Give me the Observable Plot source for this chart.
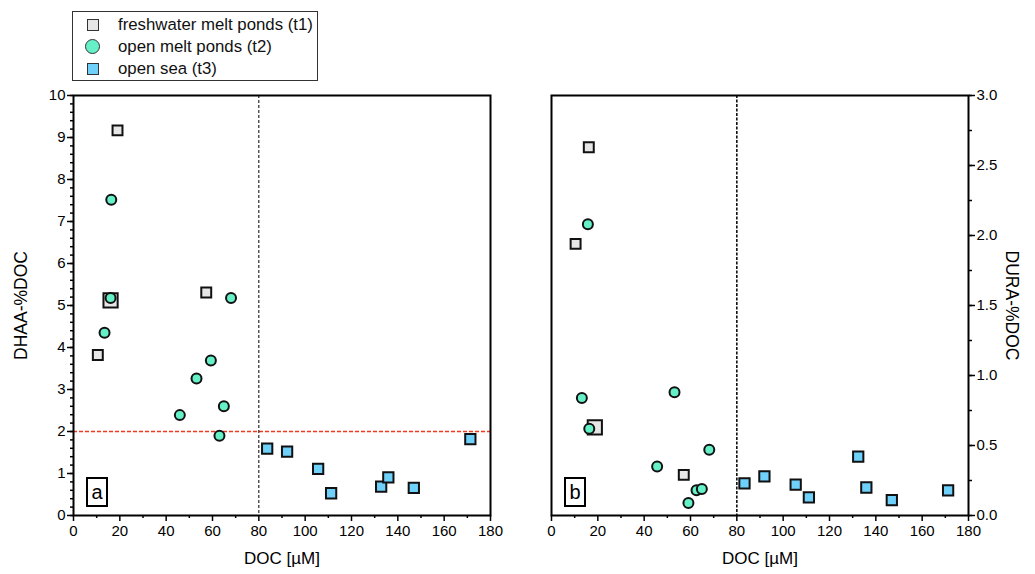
<!DOCTYPE html>
<html>
<head>
<meta charset="utf-8">
<script src="https://cdn.jsdelivr.net/npm/d3@7"></script>
<script src="https://cdn.jsdelivr.net/npm/@observablehq/plot@0.6"></script>
<style>
  html, body { margin: 0; padding: 0; background: #fff; }
  body { width: 1035px; height: 574px; position: relative; overflow: hidden; font-family: "Liberation Sans", Arial, sans-serif; }
  .panel { position: absolute; top: 0; }
  .legend { position: absolute; left: 72px; top: 11px; width: 246px; height: 70px; border: 1.3px solid #333; background: #fff; box-sizing: border-box; }
  .entry { position: absolute; left: 0; height: 20px; font-size: 16.8px; line-height: 20px; color: #111; }
  .entry .sym { position: absolute; left: 14px; top: 4px; width: 12px; height: 12px; border: 1.5px solid #333; box-sizing: border-box; }
  .entry .sym.circle { width: 15px; height: 15px; left: 12px; top: 2px; border-radius: 50%; }
  .entry .lab { position: absolute; left: 45px; white-space: nowrap; }
  .tag { position: absolute; border: 2px solid #000; box-sizing: border-box; width: 22px; height: 30px; font-size: 20px; text-align: center; line-height: 27px; color: #000; background: #fff; }
</style>
</head>
<body>
<script>
// ---- categories / legend labels ----
const groups = ["freshwater melt ponds (t1)", "open melt ponds (t2)", "open sea (t3)"];
const groupColors = ["#e6e6e6", "#66f0c8", "#6fd0fa"];

// ---- panel a: DHAA-%DOC vs DOC [µM] ----
const t1DOC_a  = [10.5, 16.0, 19.0, 57.3];
const t1DHAA   = [3.82, 5.12, 9.17, 5.31];
const t2DOC_a  = [13.4, 16.0, 16.3, 45.9, 53.1, 59.3, 63.0, 64.9, 68.0];
const t2DHAA   = [4.35, 5.18, 7.52, 2.39, 3.26, 3.69, 1.90, 2.60, 5.18];
const t3DOC_a  = [83.6, 92.2, 105.6, 111.2, 132.8, 135.9, 146.9, 171.3];
const t3DHAA   = [1.59, 1.52, 1.11, 0.53, 0.69, 0.91, 0.66, 1.82];

// ---- panel b: DURA-%DOC vs DOC [µM] ----
const t1DOC_b  = [10.4, 18.7, 16.1, 57.1];
const t1DURA   = [1.94, 0.63, 2.63, 0.29];
const t2DOC_b  = [13.1, 15.7, 16.3, 45.6, 53.1, 59.1, 62.6, 64.9, 68.1];
const t2DURA   = [0.84, 2.08, 0.62, 0.35, 0.88, 0.09, 0.18, 0.19, 0.47];
const t3DOC_b  = [83.3, 91.9, 105.4, 111.1, 132.4, 135.9, 146.9, 171.2];
const t3DURA   = [0.23, 0.28, 0.22, 0.13, 0.42, 0.20, 0.11, 0.18];

// ---- reference lines ----
const docThreshold = 80;
const dhaaThreshold = 2;

// ---- ticks ----
const xTicks = [0, 20, 40, 60, 80, 100, 120, 140, 160, 180];
const xMinor = [10, 30, 50, 70, 90, 110, 130, 150, 170];
const yTicksA = [0, 1, 2, 3, 4, 5, 6, 7, 8, 9, 10];
const yTicksB = [0, 0.5, 1, 1.5, 2, 2.5, 3];

const rows = (xs, ys) => xs.map((x, i) => ({x, y: ys[i], i}));
const FONT = "Liberation Sans, Arial, sans-serif";

function symbols(t1, t2, t3, bigIndex) {
  return [
    Plot.dot(t1.filter(d => d.i !== bigIndex), {x: "x", y: "y", symbol: "square", r: 5.6, fill: groupColors[0], stroke: "#111", strokeWidth: 2}),
    Plot.dot(t1.filter(d => d.i === bigIndex), {x: "x", y: "y", symbol: "square", r: 8, fill: groupColors[0], stroke: "#111", strokeWidth: 2}),
    Plot.dot(t3, {x: "x", y: "y", symbol: "square", r: 5.8, fill: groupColors[2], stroke: "#111", strokeWidth: 2}),
    Plot.dot(t2, {x: "x", y: "y", symbol: "circle", r: 5, fill: groupColors[1], stroke: "#111", strokeWidth: 2})
  ];
}

const minorA = d3.range(0, 50.5).map(k => k * 0.2);
const minorB = d3.range(0, 12.5).map(k => k * 0.25);

const panelA = Plot.plot({
  width: 517, height: 574,
  marginLeft: 73, marginRight: 27, marginTop: 95, marginBottom: 59,
  x: {domain: [0, 180], label: null},
  y: {domain: [0, 10], label: null},
  style: {fontFamily: FONT, fontSize: "15px", color: "#000", background: "transparent", overflow: "visible"},
  marks: [
    Plot.ruleY([dhaaThreshold], {stroke: "#f03a1e", strokeWidth: 1.3, strokeDasharray: "4,2"}),
    Plot.ruleX([docThreshold], {stroke: "#000", strokeWidth: 1, strokeDasharray: "3,2"}),
    Plot.axisY({ticks: minorA, tickSize: 3, text: null, label: null, strokeWidth: 1.5}),
    Plot.axisY({ticks: yTicksA, tickSize: 6, tickPadding: 2, label: null, strokeWidth: 1.5, fontSize: 15}),
    Plot.axisX({ticks: xMinor, tickSize: 3, text: null, label: null, strokeWidth: 1.5}),
    Plot.axisX({ticks: xTicks, tickSize: 6, tickPadding: 4, label: null, strokeWidth: 1.5, fontSize: 15}),
    Plot.frame({stroke: "#000", strokeWidth: 2}),
    ...symbols(rows(t1DOC_a, t1DHAA), rows(t2DOC_a, t2DHAA), rows(t3DOC_a, t3DHAA), 1),
    Plot.text(["DHAA-%DOC"], {frameAnchor: "left", textAnchor: "middle", rotate: -90, dx: -52, fontSize: 17.5}),
    Plot.text(["DOC [µM]"], {frameAnchor: "bottom", dy: 48, fontSize: 17})
  ]
});

const panelB = Plot.plot({
  width: 518, height: 574,
  marginLeft: 34, marginRight: 67, marginTop: 95, marginBottom: 59,
  x: {domain: [0, 180], label: null},
  y: {domain: [0, 3], label: null},
  style: {fontFamily: FONT, fontSize: "15px", color: "#000", background: "transparent", overflow: "visible"},
  marks: [
    Plot.ruleX([docThreshold], {stroke: "#000", strokeWidth: 1.5, strokeDasharray: "3,1.5"}),
    Plot.axisY({anchor: "right", ticks: minorB, tickSize: 3, text: null, label: null, strokeWidth: 1.5}),
    Plot.axisY({anchor: "right", ticks: yTicksB, tickSize: 6, tickPadding: 2, tickFormat: d3.format(".1f"), label: null, strokeWidth: 1.5, fontSize: 15}),
    Plot.axisX({ticks: xMinor, tickSize: 3, text: null, label: null, strokeWidth: 1.5}),
    Plot.axisX({ticks: xTicks, tickSize: 6, tickPadding: 4, label: null, strokeWidth: 1.5, fontSize: 15}),
    Plot.frame({stroke: "#000", strokeWidth: 2}),
    ...symbols(rows(t1DOC_b, t1DURA), rows(t2DOC_b, t2DURA), rows(t3DOC_b, t3DURA), 1),
    Plot.text(["DURA-%DOC"], {frameAnchor: "right", textAnchor: "middle", rotate: 90, dx: 43, fontSize: 17.5}),
    Plot.text(["DOC [µM]"], {frameAnchor: "bottom", dy: 48, fontSize: 17})
  ]
});

const wrapA = document.createElement("div");
wrapA.className = "panel"; wrapA.style.left = "0px";
wrapA.appendChild(panelA);
const wrapB = document.createElement("div");
wrapB.className = "panel"; wrapB.style.left = "517px";
wrapB.appendChild(panelB);
document.body.appendChild(wrapA);
document.body.appendChild(wrapB);

// panel tags
[["a", 86], ["b", 564]].forEach(([t, left]) => {
  const d = document.createElement("div");
  d.className = "tag"; d.textContent = t;
  d.style.left = left + "px"; d.style.top = "477px";
  document.body.appendChild(d);
});

// legend
const legend = document.createElement("div");
legend.className = "legend";
groups.forEach((g, k) => {
  const e = document.createElement("div");
  e.className = "entry";
  e.style.top = (3 + k * 22) + "px";
  const s = document.createElement("span");
  s.className = "sym" + (k === 1 ? " circle" : "");
  s.style.background = groupColors[k];
  const l = document.createElement("span");
  l.className = "lab"; l.textContent = g;
  e.appendChild(s); e.appendChild(l);
  legend.appendChild(e);
});
document.body.appendChild(legend);
</script>
</body>
</html>
